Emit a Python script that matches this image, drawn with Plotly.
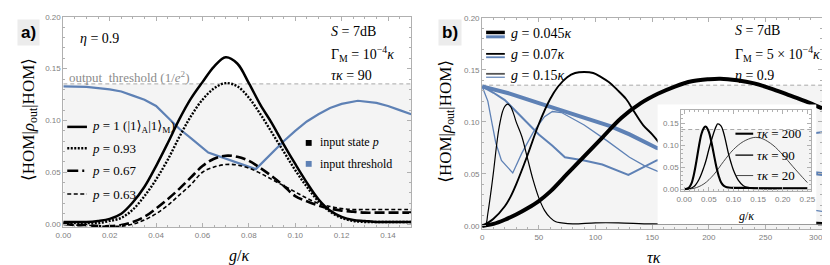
import plotly.graph_objects as go

W, H = 830, 265
def px(x): return x / W
def py(y): return 1 - y / H

SERIF = "Liberation Serif, DejaVu Serif, serif"
SANS = "Liberation Sans, DejaVu Sans, sans-serif"
BLUE = "#5e81b5"
THRESH = 0.1353  # 1/e^2

# ---------------- panel a data ----------------
G_A = [0.000, 0.005, 0.010, 0.015, 0.020, 0.025, 0.030, 0.035, 0.040, 0.045, 0.050,
       0.055, 0.060, 0.065, 0.070, 0.075, 0.080, 0.085, 0.090, 0.095, 0.100, 0.105,
       0.110, 0.115, 0.120, 0.125, 0.130, 0.135, 0.140, 0.145, 0.150]
P_100 = [0.002, 0.002, 0.002, 0.003, 0.005, 0.010, 0.021, 0.036, 0.056, 0.078, 0.101,
         0.121, 0.137, 0.152, 0.161, 0.155, 0.136, 0.115, 0.097, 0.077, 0.058, 0.040,
         0.024, 0.013, 0.007, 0.004, 0.003, 0.002, 0.002, 0.002, 0.002]
P_093 = [0.001, 0.001, 0.001, 0.001, 0.003, 0.006, 0.014, 0.027, 0.043, 0.062, 0.084,
         0.104, 0.120, 0.131, 0.136, 0.133, 0.122, 0.106, 0.088, 0.070, 0.052, 0.036,
         0.022, 0.012, 0.006, 0.003, 0.002, 0.002, 0.002, 0.002, 0.002]
P_067 = [0.000, -0.001, -0.001, -0.002, -0.002, -0.001, 0.002, 0.007, 0.015, 0.024, 0.034,
         0.045, 0.056, 0.063, 0.066, 0.065, 0.061, 0.054, 0.046, 0.037, 0.027, 0.022,
         0.018, 0.015, 0.013, 0.012, 0.011, 0.011, 0.011, 0.011, 0.011]
P_063 = [0.000, -0.001, -0.001, -0.002, -0.002, -0.002, 0.000, 0.004, 0.010, 0.018, 0.028,
         0.038, 0.050, 0.055, 0.0575, 0.057, 0.054, 0.049, 0.043, 0.037, 0.031, 0.025,
         0.020, 0.017, 0.015, 0.014, 0.014, 0.014, 0.014, 0.014, 0.014]
G_THR_A = [0.000, 0.010, 0.020, 0.025, 0.030, 0.035, 0.040, 0.045, 0.050, 0.055, 0.0625,
           0.083, 0.090, 0.095, 0.100, 0.105, 0.110, 0.115, 0.120, 0.127, 0.135, 0.140,
           0.145, 0.150]
THR_A = [0.133, 0.1325, 0.130, 0.128, 0.124, 0.120, 0.114, 0.103, 0.092, 0.083, 0.069,
         0.053, 0.069, 0.080, 0.090, 0.099, 0.106, 0.112, 0.116, 0.119, 0.117, 0.114,
         0.110, 0.106]

# ---------------- panel b data ----------------
T_TICKS = [0, 50, 100, 150, 200, 250, 300]
T_045 = [0, 10, 20, 30, 40, 50, 60, 75, 90, 106, 123, 140, 155, 170, 185, 200, 210,
         225, 240, 255, 270, 285, 300]
V_045 = [0, 0.002, 0.006, 0.011, 0.017, 0.024, 0.033, 0.050, 0.067, 0.085, 0.104, 0.118,
         0.127, 0.134, 0.139, 0.141, 0.1415, 0.140, 0.137, 0.132, 0.126, 0.120, 0.113]
T_07 = [0, 10, 20, 25, 30, 40, 50, 60, 67, 75, 82, 90, 98, 105, 112, 119, 127, 134, 142,
        150, 156, 165, 180, 200, 220, 250, 300]
V_07 = [0, 0.007, 0.019, 0.028, 0.040, 0.068, 0.098, 0.122, 0.134, 0.143, 0.147, 0.148,
        0.147, 0.143, 0.138, 0.131, 0.122, 0.110, 0.097, 0.088, 0.080, 0.066, 0.045,
        0.025, 0.013, 0.006, 0.003]
T_15 = [0, 3, 5, 8, 10, 13, 15, 18, 20, 22.5, 25, 28, 30, 35, 40, 45, 50, 55, 60, 65,
        70, 80, 100, 120, 150, 200, 250, 300]
V_15 = [0, 0.001, 0.012, 0.035, 0.052, 0.080, 0.095, 0.110, 0.115, 0.117, 0.115, 0.107,
        0.100, 0.086, 0.065, 0.044, 0.027, 0.015, 0.008, 0.004, 0.003, 0.002, 0.003,
        0.003, 0.002, 0.002, 0.002, 0.002]
TT_045 = [0, 25, 50, 75, 100, 113, 130, 154, 180, 210, 250, 300]
THR_045 = [0.134, 0.127, 0.118, 0.109, 0.100, 0.096, 0.088, 0.075, 0.068, 0.062, 0.056, 0.050]
TT_07 = [0, 10, 20, 35, 50, 62, 73, 90, 106, 129, 154, 180, 220, 260, 300]
THR_07 = [0.134, 0.128, 0.121, 0.104, 0.088, 0.077, 0.066, 0.063, 0.059, 0.049, 0.063,
          0.070, 0.078, 0.085, 0.090]
TT_15 = [0, 5, 9, 12, 17, 27, 35, 45, 55, 62, 70, 90, 110, 130, 143, 156, 200, 250, 300]
THR_15 = [0.134, 0.120, 0.097, 0.080, 0.063, 0.051, 0.070, 0.090, 0.105, 0.110, 0.109,
          0.097, 0.082, 0.066, 0.058, 0.052, 0.035, 0.022, 0.014]

# ---------------- inset data ----------------
GI_200 = [0, 0.005, 0.010, 0.015, 0.020, 0.025, 0.030, 0.035, 0.040, 0.043, 0.045, 0.050,
          0.055, 0.060, 0.065, 0.070, 0.075, 0.080, 0.085, 0.090, 0.100, 0.120, 0.150,
          0.200, 0.250]
VI_200 = [0, 0.001, 0.004, 0.014, 0.035, 0.065, 0.098, 0.125, 0.139, 0.142, 0.141, 0.130,
          0.108, 0.080, 0.052, 0.030, 0.015, 0.008, 0.005, 0.004, 0.003, 0.003, 0.002,
          0.002, 0.002]
GI_90 = [0, 0.010, 0.020, 0.030, 0.040, 0.045, 0.050, 0.060, 0.065, 0.068, 0.075, 0.080,
         0.085, 0.090, 0.095, 0.100, 0.110, 0.120, 0.130, 0.140, 0.200, 0.250]
VI_90 = [0, 0.001, 0.006, 0.022, 0.050, 0.068, 0.090, 0.128, 0.143, 0.148, 0.143, 0.128,
         0.105, 0.080, 0.060, 0.043, 0.020, 0.008, 0.004, 0.003, 0.002, 0.002]
GI_20 = [0, 0.02, 0.04, 0.06, 0.08, 0.10, 0.12, 0.14, 0.15, 0.16, 0.18, 0.20, 0.22,
         0.24, 0.25]
VI_20 = [0, 0.002, 0.012, 0.033, 0.063, 0.090, 0.108, 0.117, 0.117, 0.114, 0.100, 0.078,
         0.052, 0.027, 0.015]

fig = go.Figure()

def line(x, y, ax, color, width, dash=None, shape="spline"):
    fig.add_trace(go.Scatter(x=x, y=y, mode="lines", xaxis=ax[0], yaxis=ax[1],
                             line=dict(color=color, width=width, dash=dash, shape=shape),
                             showlegend=False, hoverinfo="skip"))

A = ("x", "y")
B = ("x2", "y2")
I = ("x4", "y4")

# panel a
line(G_THR_A, THR_A, A, BLUE, 2.2, shape="linear")
line(G_A, P_063, A, "black", 1.6, "4px,2.5px")
line(G_A, P_067, A, "black", 2.6, "10px,4px")
line(G_A, P_093, A, "black", 2.4, "2px,1.5px")
line(G_A, P_100, A, "black", 2.5)

# panel b
line(TT_045, THR_045, B, BLUE, 4, shape="linear")
line(TT_07, THR_07, B, BLUE, 2, shape="linear")
line(TT_15, THR_15, B, BLUE, 1.3, shape="linear")
line(T_045, V_045, B, "black", 4)
line(T_07, V_07, B, "black", 1.9)
line(T_15, V_15, B, "black", 1.2)

# white backing panel for inset
fig.add_trace(go.Scatter(x=[None], y=[None], xaxis="x3", yaxis="y3", showlegend=False,
                         hoverinfo="skip"))
# inset
line(GI_20, VI_20, I, "#333", 0.9)
line(GI_90, VI_90, I, "black", 1.3)
line(GI_200, VI_200, I, "black", 2.1)

FRAME = "#b0b0b0"
TICKFONT = dict(family=SANS, size=8, color="#808080")
def frame_axis(rng, dom, anchor, dtick, minor, fmt):
    return dict(domain=dom, range=rng, anchor=anchor, showline=True, linecolor=FRAME,
                linewidth=1, mirror="ticks", ticks="inside", ticklen=4, tickcolor=FRAME,
                tickwidth=0.8, dtick=dtick, tick0=0, tickformat=fmt, showgrid=False,
                zeroline=False, tickfont=TICKFONT, ticklabeloverflow="allow",
                minor=dict(dtick=minor, ticks="inside", ticklen=2, tickcolor=FRAME,
                           tickwidth=0.6, showgrid=False))

xb = frame_axis([0, 300], [px(473), px(818)], "y2", 50, 10, "d")
# last label (300) is placed as an annotation so it is not cut at the page edge
xb.update(tickmode="array", tickvals=T_TICKS,
          ticktext=[str(t) for t in T_TICKS[:-1]] + [""])

layout = dict(
    width=W, height=H, margin=dict(l=0, r=0, t=0, b=0),
    paper_bgcolor="white", plot_bgcolor="white", showlegend=False,
    xaxis=frame_axis([0, 0.15], [px(48), px(401)], "y", 0.02, 0.005, ".2f"),
    yaxis=frame_axis([-0.003, 0.2], [py(221), py(5)], "x", 0.05, 0.01, ".2f"),
    xaxis2=xb,
    yaxis2=frame_axis([-0.003, 0.2], [py(223), py(6)], "x2", 0.05, 0.01, ".2f"),
    xaxis3=dict(domain=[px(651), px(812)], range=[0, 1], anchor="y3", showline=False,
                showticklabels=False, ticks="", showgrid=False, zeroline=False),
    yaxis3=dict(domain=[py(218), py(95)], range=[0, 1], anchor="x3", showline=False,
                showticklabels=False, ticks="", showgrid=False, zeroline=False),
    xaxis4=frame_axis([-0.006, 0.258], [px(675), px(807)], "y4", 0.05, 0.01, ".2f"),
    yaxis4=frame_axis([-0.0044, 0.1788], [py(184), py(101)], "x4", 0.05, 0.01, ".2f"),
)
fig.update_layout(**layout)

shapes = []
for xr, yr, x0, x1, y0 in [("x", "y", 0, 0.15, -0.003), ("x2", "y2", 0, 300, -0.003),
                           ("x4", "y4", -0.006, 0.258, -0.0044)]:
    shapes.append(dict(type="rect", xref=xr, yref=yr, x0=x0, x1=x1, y0=y0, y1=THRESH,
                       fillcolor="#f4f4f4", line=dict(width=0), layer="below"))
    shapes.append(dict(type="line", xref=xr, yref=yr, x0=x0, x1=x1, y0=THRESH, y1=THRESH,
                       line=dict(color="#a8a8a8", width=1, dash="4px,3px"), layer="below"))

def seg(x0, x1, y, color, width, dash=None):
    shapes.append(dict(type="line", xref="paper", yref="paper", x0=px(x0), x1=px(x1),
                       y0=py(y), y1=py(y), line=dict(color=color, width=width, dash=dash),
                       layer="above"))

def sq(xc, yc, s, color):
    shapes.append(dict(type="rect", xref="paper", yref="paper", x0=px(xc - s / 2),
                       x1=px(xc + s / 2), y0=py(yc + s / 2), y1=py(yc - s / 2),
                       fillcolor=color, line=dict(width=0), layer="above"))

# panel a legend swatches
seg(52, 72, 118, "black", 2.5)
seg(52, 72, 140, "black", 2.4, "2px,1.5px")
seg(52, 72, 163, "black", 2.6, "11px,4px,2px,4px")
seg(52, 72, 187, "black", 1.6, "4px,2.5px")
sq(297, 134.5, 6, "black")
sq(297, 156, 6, BLUE)
# panel b legend swatches
seg(477, 496, 21, "black", 3.5)
seg(477, 496, 25.5, BLUE, 3)
seg(477, 496, 43, "black", 1.8)
seg(477, 496, 46.5, BLUE, 1.8)
seg(477, 496, 63.5, "#555", 1.8)
seg(477, 496, 67, BLUE, 1.2)
# inset legend swatches
seg(730, 748, 125, "black", 2.1)
seg(730, 748, 147, "black", 1.3)
seg(730, 748, 168, "#333", 0.9)

fig.update_layout(shapes=shapes)

anns = []
def ann(text, x, y, size=13, color="black", xanchor="left", family=SERIF, angle=0,
        bg=None):
    d = dict(text=text, xref="paper", yref="paper", x=px(x), y=py(y), xanchor=xanchor,
             yanchor="middle", showarrow=False, textangle=angle,
             font=dict(family=family, size=size, color=color))
    if bg:
        d.update(bgcolor=bg, borderpad=3)
    anns.append(d)

# panel a text
ann("<b>a)</b>", 13, 21, 17, xanchor="center", family=SANS, bg="#ececec")
ann("<i>η</i> = 0.9", 63, 27, 14)
ann("output  threshold (1/<i>e</i><sup>2</sup>)", 52, 67, 13, color="#8c8c8c")
ann("<i>S</i> = 7dB", 318, 20, 14)
ann("Γ<sub>M</sub> = 10<sup>−4</sup><i>κ</i>", 318, 43, 14)
ann("<i>τκ</i> = 90", 318, 65, 14)
ann("<i>p</i> = 1 (|1⟩<sub>A</sub>|1⟩<sub>M</sub>)", 75, 118, 13)
ann("<i>p</i> = 0.93", 75, 140, 13)
ann("<i>p</i> = 0.67", 75, 163, 13)
ann("<i>p</i> = 0.63", 75, 187, 13)
ann("input state <i>p</i>", 306, 134, 12)
ann("input threshold", 306, 156, 12)
ann("<i>g</i>/<i>κ</i>", 226, 251, 16, xanchor="center")
ann("⟨HOM|<i>ρ</i><sub>out</sub>|HOM⟩", 14, 110, 17, xanchor="center", angle=-90)

# panel b text
ann("<b>b)</b>", 440, 21, 17, xanchor="center", family=SANS, bg="#ececec")
ann("<i>g</i> = 0.045<i>κ</i>", 500, 22, 14)
ann("<i>g</i> = 0.07<i>κ</i>", 500, 44, 14)
ann("<i>g</i> = 0.15<i>κ</i>", 500, 65, 14)
ann("<i>S</i> = 7dB", 728, 19, 14)
ann("Γ<sub>M</sub> = 5 × 10<sup>−4</sup><i>κ</i>", 728, 43, 14)
ann("<i>η</i> = 0.9", 728, 65, 14)
ann("<i>τκ</i>", 647, 252, 16, xanchor="center")
ann("⟨HOM|<i>ρ</i><sub>out</sub>|HOM⟩", 437, 112, 17, xanchor="center", angle=-90)
ann("<i>τκ</i> = 200", 750, 125, 13)
ann("<i>τκ</i> = 90", 750, 147, 13)
ann("<i>τκ</i> = 20", 750, 168, 13)
ann("<i>g</i>/<i>κ</i>", 741, 210, 12, xanchor="center")
ann(str(T_TICKS[-1]), 821, 232, 8, color="#808080", xanchor="right", family=SANS)

fig.update_layout(annotations=anns)
fig.write_html("out.html")
